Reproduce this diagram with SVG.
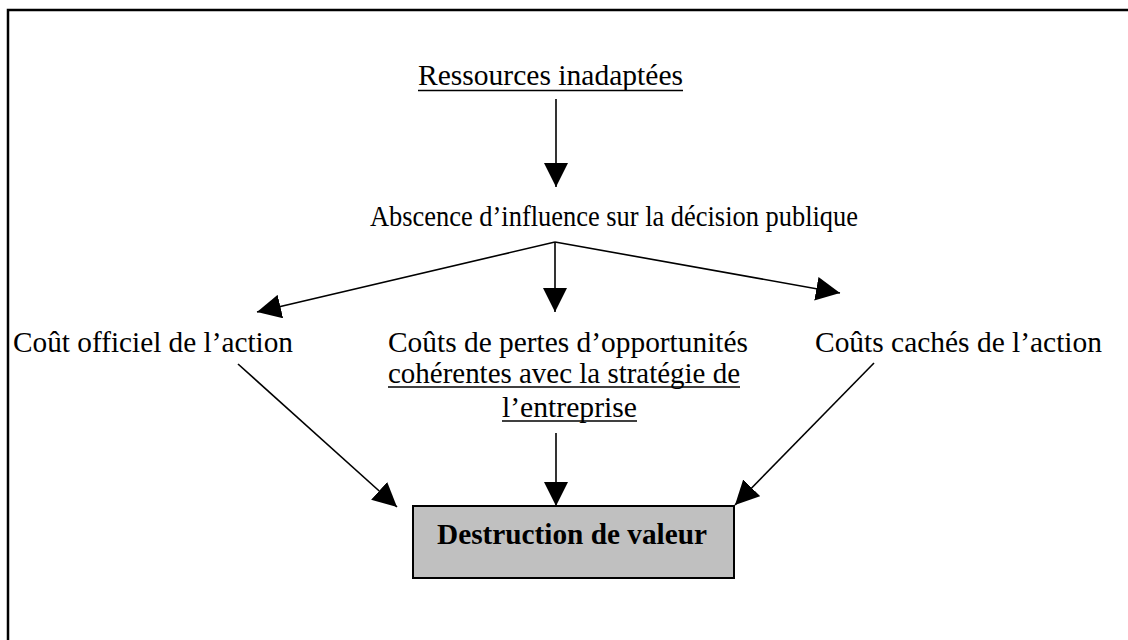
<svg xmlns="http://www.w3.org/2000/svg" width="1128" height="640" viewBox="0 0 1128 640">
<style>
text{font-family:"Liberation Serif","Times New Roman",serif;font-size:29px;fill:#000}
.b{font-weight:bold;font-size:29px}
.ul{stroke:#000;stroke-width:1.6}
.c{stroke:#000;stroke-width:1.6;fill:none;marker-end:url(#ah)}
.frame{stroke:#000;stroke-width:2.5;fill:none}
</style>
<defs>
<marker id="ah" viewBox="0 0 24 24" refX="24" refY="12" markerWidth="24" markerHeight="24" markerUnits="userSpaceOnUse" orient="auto">
<path d="M0,0 L24,12 L0,24 z" fill="#000"/>
</marker>
</defs>
<rect width="1128" height="640" fill="#fff"/>
<path class="frame" d="M8,640 L8,10 L1128,10"/>
<g id="n-ressources">
<text x="418" y="85" textLength="265" lengthAdjust="spacingAndGlyphs">Ressources inadaptées</text>
<line class="ul" x1="418" y1="90.5" x2="683" y2="90.5"/>
</g>
<g id="n-abscence">
<text x="370" y="226" textLength="488" lengthAdjust="spacingAndGlyphs">Abscence d’influence sur la décision publique</text>
</g>
<g id="n-officiel">
<text x="13" y="352" textLength="280" lengthAdjust="spacingAndGlyphs">Coût officiel de l’action</text>
</g>
<g id="n-pertes">
<text x="388" y="352" textLength="360" lengthAdjust="spacingAndGlyphs">Coûts de pertes d’opportunités</text>
<text x="388" y="383" textLength="352" lengthAdjust="spacingAndGlyphs">cohérentes avec la stratégie de</text>
<line class="ul" x1="388" y1="387" x2="740" y2="387"/>
<text x="502" y="417" textLength="135" lengthAdjust="spacingAndGlyphs">l’entreprise</text>
<line class="ul" x1="502" y1="421" x2="637" y2="421"/>
</g>
<g id="n-caches">
<text x="815" y="352" textLength="287" lengthAdjust="spacingAndGlyphs">Coûts cachés de l’action</text>
</g>
<g id="n-destruction">
<rect x="413" y="506" width="321" height="72" fill="#c0c0c0" stroke="#000" stroke-width="2"/>
<text class="b" x="437" y="544" textLength="270" lengthAdjust="spacingAndGlyphs">Destruction de valeur</text>
</g>
<g id="connectors">
<line class="c" x1="556" y1="99" x2="556" y2="187"/>
<line class="c" x1="555" y1="242" x2="257" y2="312"/>
<line class="c" x1="555" y1="242" x2="555" y2="312"/>
<line class="c" x1="555" y1="242" x2="840" y2="293"/>
<line class="c" x1="238" y1="364" x2="397" y2="507"/>
<line class="c" x1="556" y1="433" x2="556" y2="506"/>
<line class="c" x1="874" y1="363" x2="735" y2="505"/>
</g>
</svg>
